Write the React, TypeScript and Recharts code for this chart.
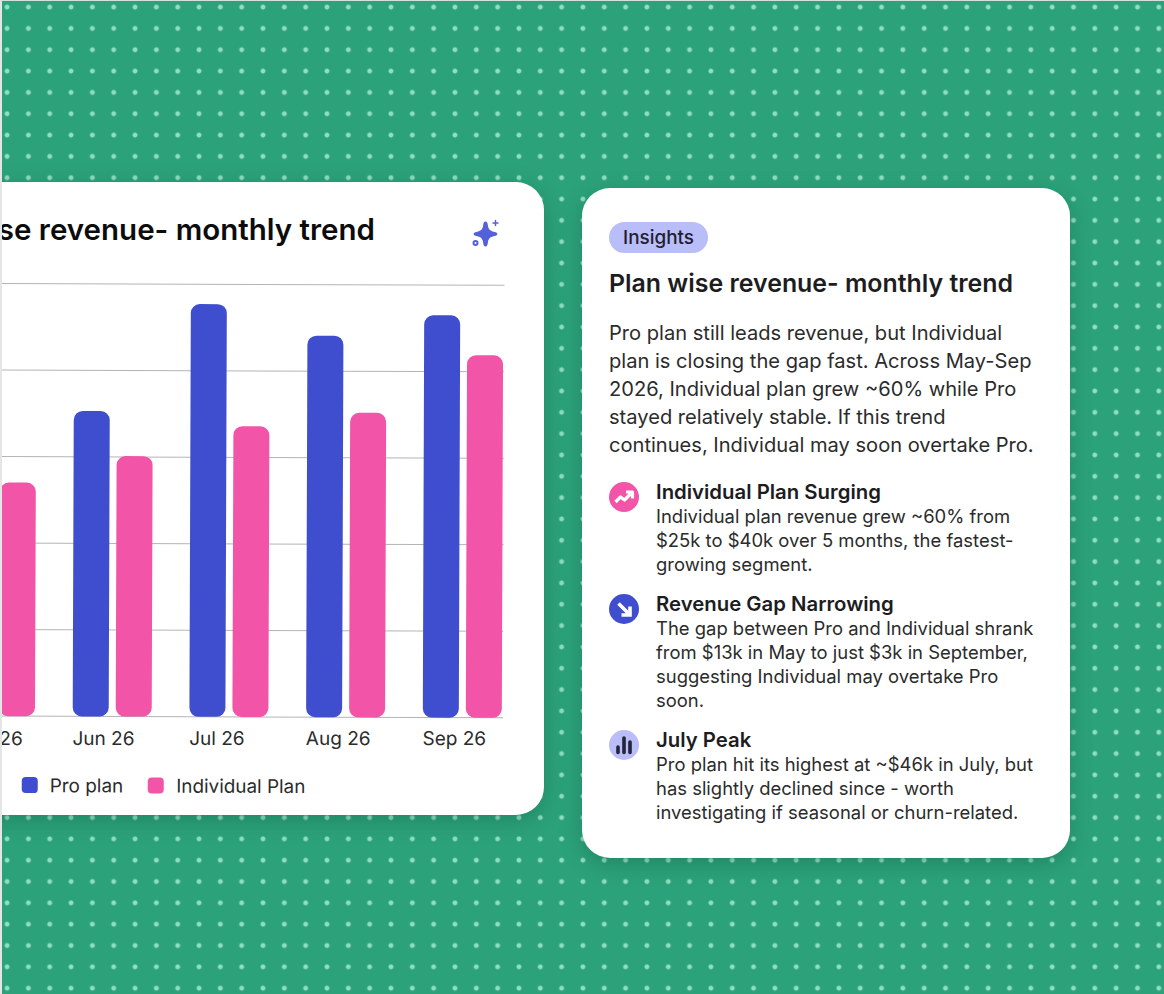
import { BarChart, Bar, XAxis, YAxis, CartesianGrid, Legend } from 'recharts';

const months = ['May 26', 'Jun 26', 'Jul 26', 'Aug 26', 'Sep 26'];
const proPlan = [38, 35.3, 47.7, 44.1, 46.5];
const individualPlan = [27, 30.1, 33.6, 35.2, 41.9];
const yTicks = [0, 10, 20, 30, 40, 50];

const chartData = months.map((month, i) => ({
  month,
  pro: proPlan[i],
  individual: individualPlan[i],
}));

const PRO_COLOR = '#3f4dcf';
const IND_COLOR = '#f254a8';
const LAVENDER = '#b9bdf8';
const FONT = 'Inter, sans-serif';

const bodyLines = [
  'Pro plan still leads revenue, but Individual',
  'plan is closing the gap fast. Across May-Sep',
  '2026, Individual plan grew ~60% while Pro',
  'stayed relatively stable. If this trend',
  'continues, Individual may soon overtake Pro.',
];

const insights = [
  {
    title: 'Individual Plan Surging',
    lines: [
      'Individual plan revenue grew ~60% from',
      '$25k to $40k over 5 months, the fastest-',
      'growing segment.',
    ],
    top: 480,
    bg: IND_COLOR,
    icon: 'up',
  },
  {
    title: 'Revenue Gap Narrowing',
    lines: [
      'The gap between Pro and Individual shrank',
      'from $13k in May to just $3k in September,',
      'suggesting Individual may overtake Pro',
      'soon.',
    ],
    top: 592,
    bg: PRO_COLOR,
    icon: 'down',
  },
  {
    title: 'July Peak',
    lines: [
      'Pro plan hit its highest at ~$46k in July, but',
      'has slightly declined since - worth',
      'investigating if seasonal or churn-related.',
    ],
    top: 728,
    bg: LAVENDER,
    icon: 'bars',
  },
];

// labels start at the blue bar and stay level, the chart itself sits a bit tilted
const MonthTick = ({ x, y, payload }: any) => (
  <text
    x={x - 39.5}
    y={y - (x - 123) * 0.0035}
    dy={21}
    textAnchor="start"
    fontSize={19}
    fontFamily={FONT}
    fill="#2b2b2b"
  >
    {payload.value}
  </text>
);

const LegendRow = () => (
  <div style={{ display: 'flex', alignItems: 'center', fontFamily: FONT, fontSize: 18.9, color: '#2b2b2b' }}>
    <span style={{ width: 16, height: 16, borderRadius: 4, background: PRO_COLOR, marginRight: 12 }} />
    <span style={{ marginRight: 25 }}>Pro plan</span>
    <span style={{ width: 16, height: 16, borderRadius: 4, background: IND_COLOR, marginRight: 12 }} />
    <span>Individual Plan</span>
  </div>
);

const Sparkle = () => (
  <svg width="32" height="32" viewBox="0 0 32 32" style={{ position: 'absolute', left: 470.5, top: 218 }}>
    <path
      d="M14.5 3.5 C16 3.5 16.6 5 16.9 7.5 C17.4 11.5 19 13 24.5 14.2 C27 14.8 27 17.2 24.5 17.8 C19 19 17.4 20.5 16.9 24.5 C16.6 27 16 28.5 14.5 28.5 C13 28.5 12.4 27 12.1 24.5 C11.6 20.5 10 19 4.5 17.8 C2 17.2 2 14.8 4.5 14.2 C10 13 11.6 11.5 12.1 7.5 C12.4 5 13 3.5 14.5 3.5 Z"
      fill="#5561d8"
    />
    <circle cx="4.5" cy="25" r="2" fill="none" stroke="#5561d8" strokeWidth="2" />
    <path d="M24.5 2.5 V7.5 M22 5 H27" stroke="#5561d8" strokeWidth="1.5" strokeLinecap="round" />
  </svg>
);

const InsightIcon = ({ kind, bg }: { kind: string; bg: string }) => (
  <svg width="30" height="30" viewBox="0 0 30 30" style={{ position: 'absolute', left: 609, top: 0 }}>
    <circle cx="15" cy="15" r="15" fill={bg} />
    {kind === 'up' && (
      <path
        d="M6.5 20 L11.5 15 L15.5 18 L22 11.5 M17 10 H23.5 V16.5"
        fill="none"
        stroke="#fff"
        strokeWidth="3.2"
        strokeLinejoin="round"
      />
    )}
    {kind === 'down' && (
      <path d="M9.5 9.5 L20 20 M21 12.5 V21 H12.5" fill="none" stroke="#fff" strokeWidth="3.6" />
    )}
    {kind === 'bars' && (
      <path
        d="M9 17 V22.5 M15 8 V22.5 M21 12 V22.5"
        fill="none"
        stroke="#23233a"
        strokeWidth="3.6"
        strokeLinecap="round"
      />
    )}
  </svg>
);

const App = () => (
  <div
    style={{
      position: 'absolute',
      left: 0,
      top: 0,
      width: 1164,
      height: 994,
      overflow: 'hidden',
      backgroundColor: '#2ca27a',
      backgroundImage: 'radial-gradient(circle at center, #8fdfc0 0, #8fdfc0 1.8px, rgba(143,223,192,0) 3px)',
      backgroundSize: '21.33px 21.33px',
      backgroundPosition: '-3.6px -3.6px',
      fontFamily: FONT,
    }}
  >
    <div
      style={{
        position: 'absolute',
        left: -200,
        top: 182,
        width: 744,
        height: 633,
        borderRadius: 28,
        background: '#fff',
        boxShadow: '0 6px 22px rgba(0,70,45,0.28)',
      }}
    />
    <div
      style={{
        position: 'absolute',
        right: 1164 - 375,
        top: 211,
        whiteSpace: 'nowrap',
        fontSize: 29.5,
        lineHeight: '36px',
        fontWeight: 600,
        color: '#0c0c0c',
      }}
    >
      Plan wise revenue- monthly trend
    </div>
    <Sparkle />

    <div style={{ position: 'absolute', left: -123, top: 258, transform: 'rotate(0.2deg)', transformOrigin: '123px 458px' }}>
      <BarChart
        width={666}
        height={562}
        data={chartData}
        barSize={36}
        barGap={7}
        margin={{ top: 25.5, right: 40, bottom: 0, left: 0 }}
      >
        <CartesianGrid vertical={false} stroke="#b4b4b4" strokeWidth={1} />
        <XAxis
          dataKey="month"
          axisLine={false}
          tickLine={false}
          height={56}
          tick={<MonthTick />}
          interval={0}
          padding={{ left: 0, right: -17.5 }}
        />
        <YAxis
          width={60}
          domain={[0, 50]}
          ticks={yTicks}
          axisLine={false}
          tickLine={false}
          tick={() => <g />}
        />
        <Legend
          verticalAlign="bottom"
          align="left"
          height={46.5}
          wrapperStyle={{ left: 145, width: 400 }}
          content={<LegendRow />}
        />
        <Bar dataKey="pro" name="Pro plan" fill={PRO_COLOR} radius={9} isAnimationActive={false} />
        <Bar dataKey="individual" name="Individual Plan" fill={IND_COLOR} radius={9} isAnimationActive={false} />
      </BarChart>
    </div>

    <div
      style={{
        position: 'absolute',
        left: 582,
        top: 188,
        width: 488,
        height: 670,
        borderRadius: 28,
        background: '#fff',
        boxShadow: '0 6px 22px rgba(0,70,45,0.28)',
      }}
    />
    <div
      style={{
        position: 'absolute',
        left: 609,
        top: 222,
        width: 99,
        height: 31,
        borderRadius: 16,
        background: LAVENDER,
        textAlign: 'center',
        lineHeight: '32px',
        fontSize: 18.9,
        fontWeight: 500,
        color: '#1f2030',
      }}
    >
      Insights
    </div>
    <div
      style={{
        position: 'absolute',
        left: 609,
        top: 266,
        whiteSpace: 'nowrap',
        fontSize: 24.9,
        lineHeight: '34px',
        fontWeight: 600,
        color: '#1d1d1f',
      }}
    >
      Plan wise revenue- monthly trend
    </div>
    <div
      style={{
        position: 'absolute',
        left: 609,
        top: 319,
        whiteSpace: 'nowrap',
        fontSize: 20.1,
        lineHeight: '28px',
        color: '#2b2b2b',
      }}
    >
      {bodyLines.map((line) => (
        <div key={line}>{line}</div>
      ))}
    </div>
    {insights.map((item) => (
      <div key={item.title} style={{ position: 'absolute', left: 0, top: item.top, width: 1164 }}>
        <div style={{ position: 'absolute', left: 0, top: 2 }}>
          <InsightIcon kind={item.icon} bg={item.bg} />
        </div>
        <div style={{ position: 'absolute', left: 656, top: 0, whiteSpace: 'nowrap', color: '#1d1d1f' }}>
          <div style={{ fontSize: 20.35, lineHeight: '24px', fontWeight: 600 }}>{item.title}</div>
          {item.lines.map((line) => (
            <div key={line} style={{ fontSize: 18.45, lineHeight: '24px', color: '#2b2b2b' }}>
              {line}
            </div>
          ))}
        </div>
      </div>
    ))}
    <div style={{ position: 'absolute', left: 0, top: 0, width: 2, height: 994, background: '#e4e6e5' }} />
    <div style={{ position: 'absolute', left: 0, top: 0, width: 1164, height: 1, background: '#cfe3da' }} />
  </div>
);

export default App;
